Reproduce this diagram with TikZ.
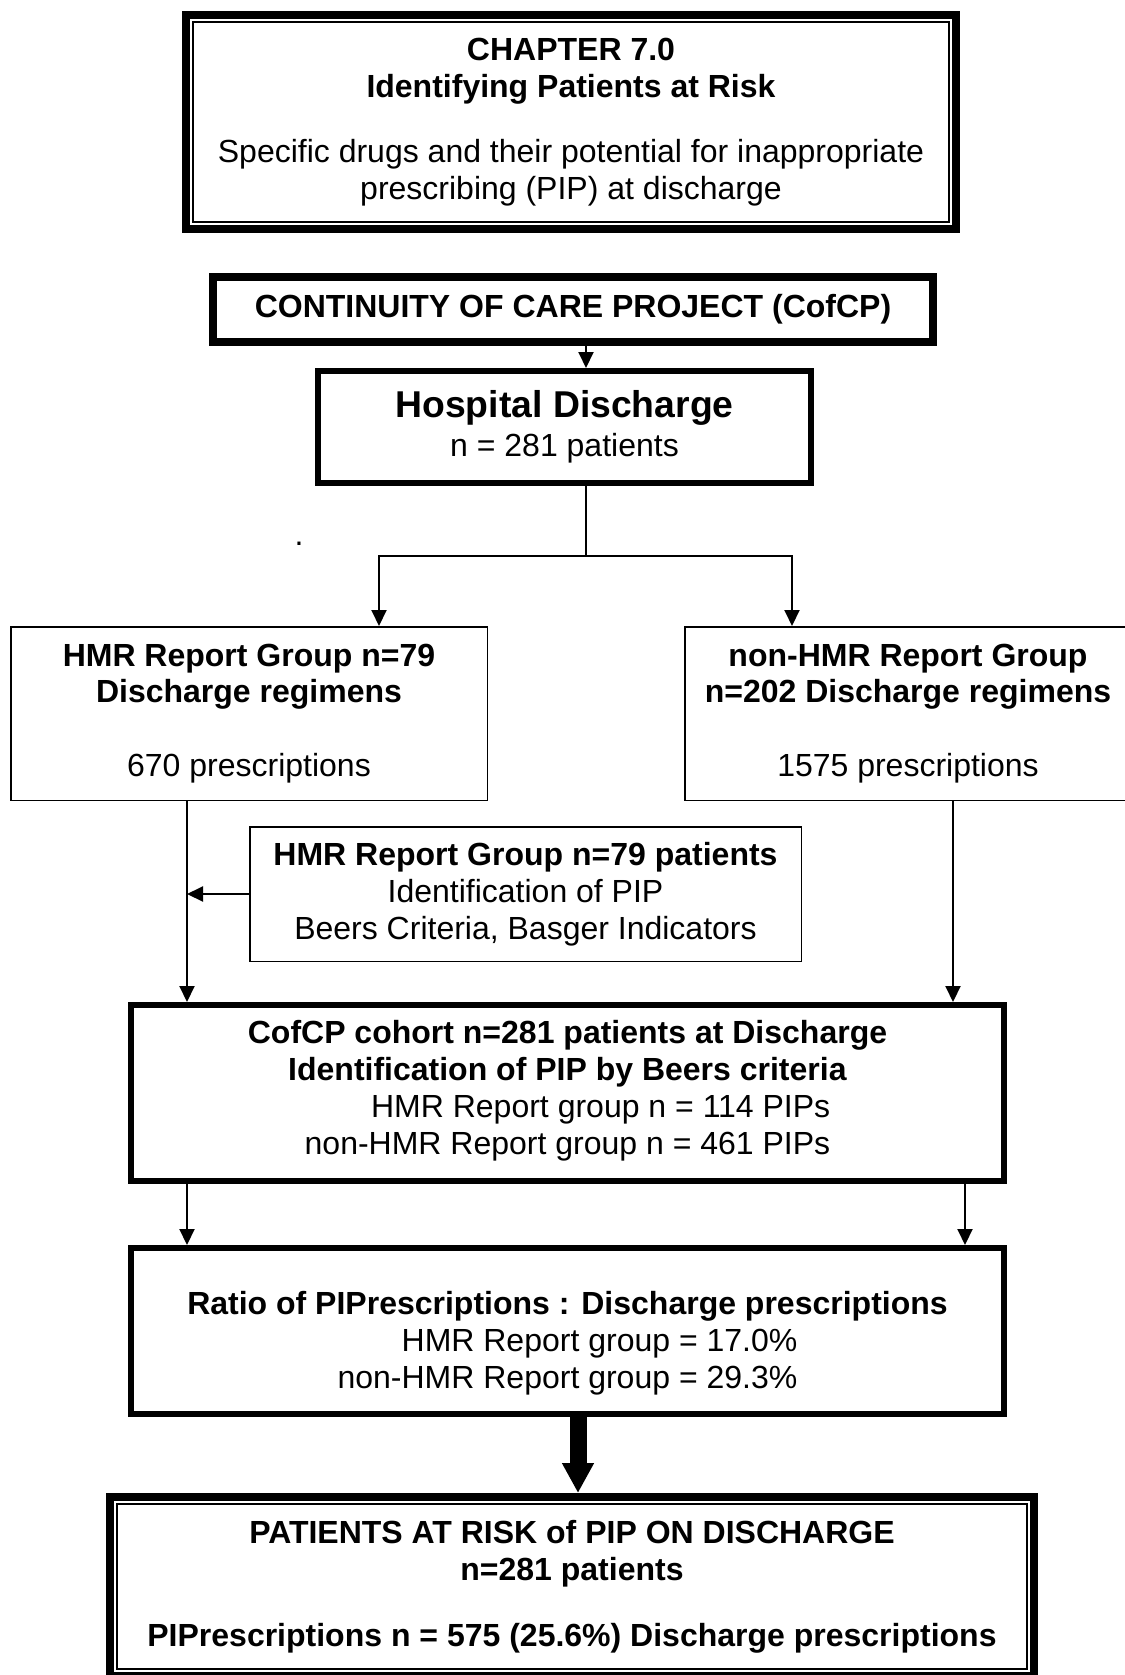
\documentclass[tikz,border=0pt]{standalone}
\usepackage{fontspec}
\setmainfont{Liberation Sans}
\usetikzlibrary{arrows.meta,calc}

\begin{document}
\begin{tikzpicture}[
    x=0.5pt, y=-0.5pt,
    base/.style={rectangle, draw, align=center, inner sep=2pt, font=\fontsize{16}{18.4}\selectfont},
    thinbox/.style={base, line width=0.75pt},
    boldbox/.style={base, line width=3pt},
    heavybox/.style={base, line width=4pt},
    conn/.style={line width=1pt},
    arrow/.style={conn, -{Triangle[width=7.5pt,length=8pt]}},
    bigarrow/.style={line width=8.5pt, -{Triangle[width=15pt,length=15pt]}}
]
    \useasboundingbox (0,0) rectangle (1124,1675);

    \node[heavybox, minimum width=385pt, minimum height=107pt] (chap) at (571,122)
        {\textbf{CHAPTER 7.0}\\\textbf{Identifying Patients at Risk}\\[14pt]Specific drugs and their potential for inappropriate\\prescribing (PIP) at discharge};
    \node[heavybox, minimum width=360pt, minimum height=32.25pt] (cofcp) at (573,309.5)
        {\textbf{CONTINUITY OF CARE PROJECT (CofCP)}};
    \node[boldbox, minimum width=246.5pt, minimum height=56pt] (hosp) at (564.5,427)
        {{\fontsize{18.67}{19.5}\selectfont\bfseries Hospital Discharge}\\[1pt]n = 281 patients};
    \node[font=\fontsize{16}{18.4}\selectfont, inner sep=0pt] (dot) at (299,544) {.};

    \node[thinbox, minimum width=238.25pt, minimum height=86.75pt] (hmr) at (249,713.5)
        {\textbf{HMR Report Group n=79}\\\textbf{Discharge regimens}\\[18.4pt]670 prescriptions};
    \node[thinbox, minimum width=223.25pt, minimum height=86.75pt] (non) at (908,713.5)
        {\textbf{non-HMR Report Group}\\\textbf{n=202 Discharge regimens}\\[18.4pt]1575 prescriptions};
    \node[thinbox, minimum width=275.75pt, minimum height=67.25pt] (mid) at (525.5,894)
        {\textbf{HMR Report Group n=79 patients}\\Identification of PIP\\Beers Criteria, Basger Indicators};

    \node[boldbox, minimum width=436.5pt, minimum height=88pt] (cohort) at (567.5,1093)
        {\textbf{CofCP cohort n=281 patients at Discharge}\\\textbf{Identification of PIP by Beers criteria}\\
         \begin{tabular}[t]{@{}r@{}}HMR Report group n = 114 PIPs\\non-HMR Report group n = 461 PIPs\end{tabular}};
    \node[boldbox, minimum width=436.5pt, minimum height=83pt] (ratio) at (567.5,1331)
        {\mbox{}\\[7.6pt]\textbf{Ratio of PIPrescriptions : Discharge prescriptions}\\
         \begin{tabular}[t]{@{}r@{}}HMR Report group = 17.0\%\\non-HMR Report group = 29.3\%\end{tabular}};
    \node[heavybox, minimum width=462pt, minimum height=89.5pt] (final) at (572,1586.5)
        {\textbf{PATIENTS AT RISK of PIP ON DISCHARGE}\\\textbf{n=281 patients}\\[14.5pt]\textbf{PIPrescriptions n = 575 (25.6\%) Discharge prescriptions}};

    % inner frame lines
    \foreach \b in {chap,final}
        \draw[line width=0.75pt] ([shift={(11,11)}]\b.north west) rectangle ([shift={(-11,-11)}]\b.south east);

    \coordinate (split) at (586,556);
    \coordinate (hmrin) at (379,0);
    \coordinate (nonin) at (792,0);
    \coordinate (leftcol) at (187,0);
    \coordinate (rightcol) at (953,0);
    \coordinate (rightcolb) at (965,0);
    \coordinate (mainx) at (578,0);

    \draw[arrow] (cofcp.south -| split) -- (hosp.north -| split);
    \draw[conn] (hosp.south -| split) -- (split);
    \draw[arrow] (split) -| (hmr.north -| hmrin);
    \draw[arrow] (split) -| (non.north -| nonin);
    \draw[arrow] (hmr.south -| leftcol) -- (cohort.north -| leftcol);
    \draw[arrow] (mid.west) -- (mid.west -| leftcol);
    \draw[arrow] (non.south -| rightcol) -- (cohort.north -| rightcol);
    \draw[arrow] (cohort.south -| leftcol) -- (ratio.north -| leftcol);
    \draw[arrow] (cohort.south -| rightcolb) -- (ratio.north -| rightcolb);
    \draw[bigarrow] (ratio.south -| mainx) -- (final.north -| mainx);
\end{tikzpicture}
\end{document}
